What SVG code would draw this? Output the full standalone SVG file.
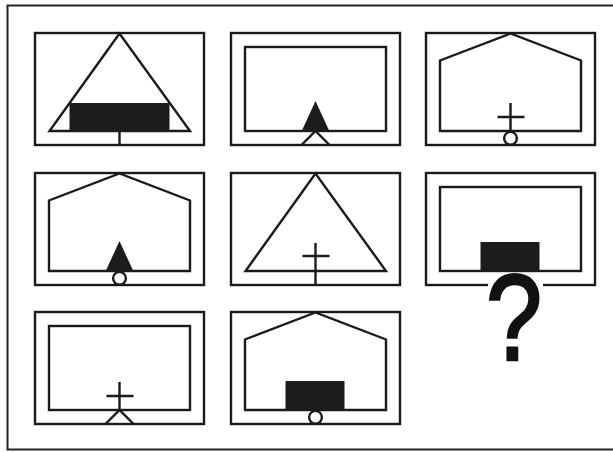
<svg xmlns="http://www.w3.org/2000/svg" width="613" height="452" viewBox="0 0 613 452">
<defs>
<style>
.ln{fill:none;stroke:#1a1a1a;stroke-width:2.4;stroke-linejoin:miter}
.fr{fill:#fff;stroke:#1a1a1a;stroke-width:2.4}
.bk{fill:#1c1c1c;stroke:none}
.q{font-family:"Liberation Sans",Arial,sans-serif;font-size:112px;fill:#111;stroke:#111;stroke-width:2.5}
</style>
<g id="frame-shape"><rect class="fr" x="0" y="0" width="169" height="112"/></g>
<polygon id="house" class="ln" points="14,98 14,27.5 84.5,0.5 155,27.5 155,98"/>
<polygon id="tri" class="ln" points="84.5,0.5 14.5,98 155,98"/>
<rect id="inner" class="ln" x="14" y="14" width="141" height="84"/>
<polygon id="btri" class="bk" points="84.5,68 70.5,98.5 98.5,98.5"/>
<rect id="brect" class="bk" x="54.5" y="69" width="59" height="30"/>
<g id="cross"><path class="ln" d="M84.5,70V98M71.5,84H98.5"/></g>
<circle id="circ" class="ln" cx="84.5" cy="105.3" r="6.4"/>
<path id="vee" class="ln" d="M70.5,112L84.5,98L98.5,112"/>
</defs>
<rect x="7.5" y="5.5" width="610" height="444" fill="#fff" stroke="#222" stroke-width="2"/>
<g id="connectors"/>
<g id="p1" transform="translate(35,33)">
<use href="#frame-shape"/><use href="#tri"/>
<rect class="bk" x="34.5" y="70" width="100" height="28.5"/>
<path class="ln" d="M84.5,98V112"/>
</g>
<g id="p2" transform="translate(231,33)">
<use href="#frame-shape"/><use href="#inner"/><use href="#btri"/><use href="#vee"/>
</g>
<g id="p3" transform="translate(426,33)">
<use href="#frame-shape"/><use href="#house"/><use href="#cross"/><use href="#circ"/>
</g>
<g id="p4" transform="translate(35,173)">
<use href="#frame-shape"/><use href="#house"/><use href="#btri"/><use href="#circ"/>
</g>
<g id="p5" transform="translate(231,173)">
<use href="#frame-shape"/><use href="#tri"/>
<path class="ln" d="M84.5,70V112M71.5,83H98.5"/>
</g>
<g id="p6" transform="translate(426,173)">
<use href="#frame-shape"/><use href="#inner"/><use href="#brect"/>
<rect x="62" y="110" width="55" height="5" fill="#fff"/>
<text class="q" transform="translate(88,187) scale(0.9,1.09)" x="0" y="0" text-anchor="middle">?</text>
</g>
<g id="p7" transform="translate(35,312)">
<use href="#frame-shape"/><use href="#inner"/><use href="#cross"/><use href="#vee"/>
</g>
<g id="p8" transform="translate(231,312)">
<use href="#frame-shape"/><use href="#house"/><use href="#brect"/><use href="#circ"/>
</g>
</svg>
